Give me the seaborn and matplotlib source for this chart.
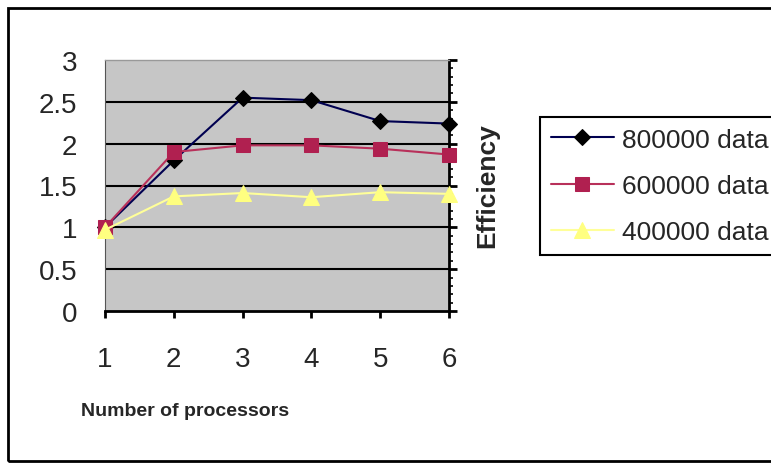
import pandas as pd
import matplotlib.pyplot as plt
import seaborn as sns
from matplotlib.ticker import MultipleLocator
from matplotlib.patches import Rectangle

# データ
processors = [1, 2, 3, 4, 5, 6]
eff_800k = [1.00, 1.80, 2.55, 2.52, 2.27, 2.24]
eff_600k = [1.00, 1.90, 1.98, 1.98, 1.94, 1.87]
eff_400k = [0.97, 1.37, 1.41, 1.36, 1.42, 1.40]
series_names = ['800000 data', '600000 data', '400000 data']

sns.set_theme(style='white')
plt.rcParams['font.family'] = ['Liberation Sans', 'DejaVu Sans']

series = [
    (series_names[0], eff_800k, '#000050', '#000000', 'D', 8),
    (series_names[1], eff_600k, '#b8305a', '#b02050', 's', 10),
    (series_names[2], eff_400k, '#ffff99', '#ffff80', '^', 11),
]

fig = plt.figure(figsize=(7.71, 4.64), dpi=100)
ax = fig.add_axes([105 / 771, 152 / 464, 344 / 771, 251 / 464])
ax.set_facecolor('#c6c6c6')

for name, vals, lc, mc, mk, ms in series:
    df = pd.DataFrame({'x': processors, 'y': vals})
    sns.lineplot(data=df, x='x', y='y', ax=ax, color=lc, marker=mk,
                 markersize=ms, markerfacecolor=mc, markeredgecolor=mc,
                 linewidth=1.5, label=name, clip_on=False, zorder=3)

ax.set_xlim(1, 6)
ax.set_ylim(0, 3)
ax.set_xticks(processors)
ax.set_yticks([0, 0.5, 1, 1.5, 2, 2.5, 3])
ax.set_yticklabels(['0', '0.5', '1', '1.5', '2', '2.5', '3'])
ax.yaxis.set_minor_locator(MultipleLocator(0.1))

for y in [0.5, 1, 1.5, 2, 2.5]:
    ax.axhline(y, color='black', linewidth=1.5, zorder=1)

ax.spines['left'].set_color('#555555')
ax.spines['left'].set_linewidth(0.8)
ax.spines['top'].set_color('#999999')
ax.spines['top'].set_linewidth(1)
ax.spines['right'].set_color('black')
ax.spines['right'].set_linewidth(2)
ax.spines['bottom'].set_color('black')
ax.spines['bottom'].set_linewidth(2)

ax.tick_params(axis='x', which='major', bottom=True, direction='out',
               length=5, width=2, color='black', labelsize=20, pad=20)
ax.tick_params(axis='y', which='major', left=False, right=True, labelleft=True,
               labelright=False, direction='out', length=6, width=2,
               color='black', labelsize=20, pad=14)
ax.tick_params(axis='y', which='minor', left=False, right=True,
               direction='out', length=3, width=1.2, color='black')

ax.set_xlabel('')
ax.set_ylabel('')
fig.text(185 / 771, 1 - 412 / 464, 'Number of processors', ha='center',
         va='center', fontsize=14, fontweight='bold')
fig.text(487 / 771, 1 - 186 / 464, 'Efficiency', ha='center', va='center',
         rotation=90, fontsize=19, fontweight='bold')

handles, labels = ax.get_legend_handles_labels()
ax.legend(handles, labels, loc='upper left',
          bbox_to_anchor=(540 / 771, 1 - 118 / 464), bbox_transform=fig.transFigure,
          frameon=True, fancybox=False, edgecolor='black', framealpha=1,
          fontsize=19, handlelength=2.4, handletextpad=0.3, labelspacing=0.85,
          borderpad=0.4, borderaxespad=0)
ax.get_legend().get_frame().set_linewidth(1.5)

# 外枠
fig.patches.append(Rectangle((8 / 771, 2 / 464), 1.0, 453 / 464,
                             transform=fig.transFigure, fill=False,
                             edgecolor='black', linewidth=2))

fig.savefig('out.png', dpi=100)
